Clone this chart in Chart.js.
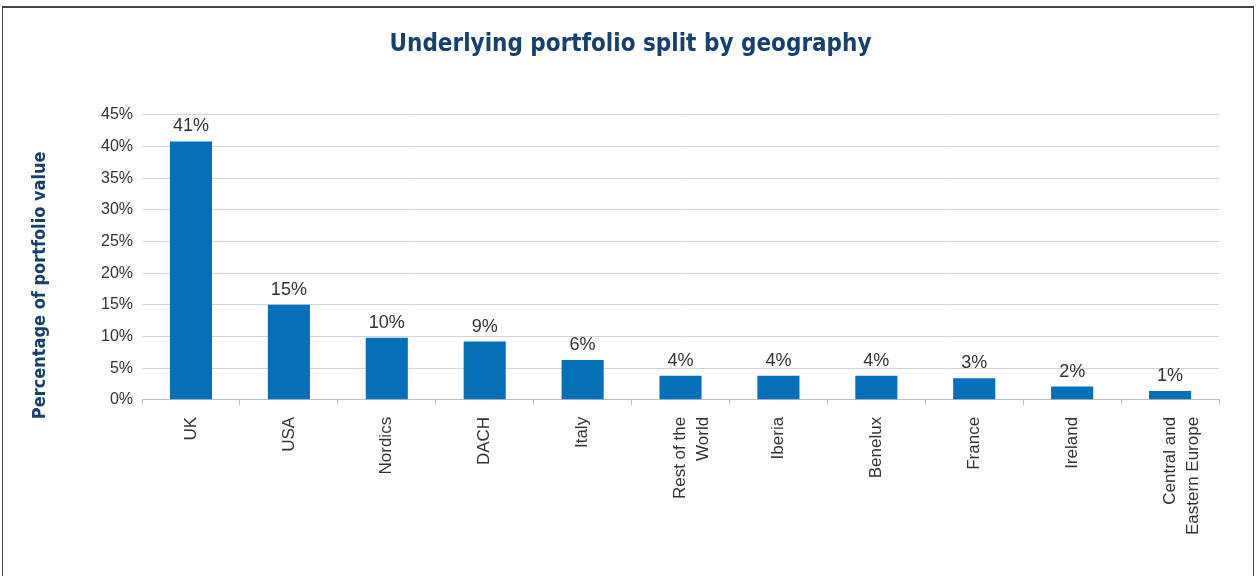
<!DOCTYPE html>
<html lang="en">

<head>
  <meta charset="UTF-8">
  <meta name="viewport" content="width=device-width, initial-scale=1.0">
  <title>Underlying portfolio split by geography</title>
  <style>
    html, body {
      margin: 0;
      padding: 0;
      background: #ffffff;
      overflow: hidden;
    }

    .quadro {
      position: absolute;
      left: 2px;
      top: 6px;
      width: 1250px;
      height: 600px;
      border-left: 1px solid #444;
      border-right: 1px solid #444;
      border-top: 2px solid #444;
    }

    .grafico {
      position: absolute;
      left: 0;
      top: 0;
      width: 1256px;
      height: 576px;
    }
  </style>
</head>

<body>
  <div class="quadro"></div>
  <div class="grafico">
    <canvas id="myChart" width="1256" height="576"></canvas>
  </div>

  <script src="https://cdn.jsdelivr.net/npm/chart.js"></script>

  <script>
    // regions and share of portfolio value (%)
    const regioes = ['UK', 'USA', 'Nordics', 'DACH', 'Italy', ['Rest of the', 'World'], 'Iberia', 'Benelux', 'France', 'Ireland', ['Central and', 'Eastern Europe']];
    const percentuais = [40.8, 15.0, 9.8, 9.2, 6.3, 3.8, 3.8, 3.8, 3.4, 2.1, 1.4];
    const ticksY = [0, 5, 10, 15, 20, 25, 30, 35, 40, 45];
    const tituloEixoY = 'Percentage of portfolio value';

    const azulBarra = '#0570b8';
    const azulTitulo = '#17406d';
    const corTexto = '#333333';
    const fonteTitulo = '"DejaVu Sans Condensed", "Liberation Sans Narrow", sans-serif';
    const fonteTexto = '"Liberation Sans", Arial, sans-serif';

    // value labels above each bar
    const rotulosBarras = {
      id: 'rotulosBarras',
      afterDatasetsDraw(chart) {
        const ctx = chart.ctx;
        const meta = chart.getDatasetMeta(0);
        ctx.save();
        ctx.font = '18px ' + fonteTexto;
        ctx.fillStyle = corTexto;
        ctx.textAlign = 'center';
        ctx.textBaseline = 'bottom';
        meta.data.forEach(function (barra, i) {
          const valor = chart.data.datasets[0].data[i];
          ctx.fillText(Math.round(valor) + '%', barra.x, barra.y - 6);
        });
        ctx.restore();
      }
    };

    // y axis title, sits a bit lower than the middle of the plot
    const tituloY = {
      id: 'tituloY',
      afterDraw(chart) {
        const ctx = chart.ctx;
        const area = chart.chartArea;
        ctx.save();
        ctx.translate(40, (area.top + area.bottom) / 2 + 28);
        ctx.rotate(-Math.PI / 2);
        ctx.font = 'bold 18px ' + fonteTitulo;
        ctx.fillStyle = azulTitulo;
        ctx.textAlign = 'center';
        ctx.textBaseline = 'middle';
        ctx.fillText(tituloEixoY, 0, 0);
        ctx.restore();
      }
    };

    const ctx = document.getElementById('myChart');
    new Chart(ctx, {
      type: 'bar',
      data: {
        labels: regioes,
        datasets: [{
          label: tituloEixoY,
          data: percentuais,
          backgroundColor: azulBarra,
          borderWidth: 0,
          categoryPercentage: 1,
          barPercentage: 0.43
        }]
      },
      options: {
        responsive: false,
        animation: false,
        layout: {
          padding: { left: 42, right: 37, top: 0, bottom: 29 }
        },
        scales: {
          y: {
            min: 0,
            max: 45,
            afterBuildTicks: function (scale) {
              scale.ticks = ticksY.map(function (v) { return { value: v }; });
            },
            // room for the y title drawn by the plugin
            afterFit: function (scale) {
              scale.width += 50;
            },
            border: { display: false },
            grid: {
              color: '#d4d4d4',
              lineWidth: 1,
              drawTicks: false
            },
            ticks: {
              color: corTexto,
              padding: 9,
              font: { family: fonteTexto, size: 16 },
              callback: function (v) { return v + '%'; }
            }
          },
          x: {
            border: { color: '#bfbfbf' },
            grid: {
              offset: true,
              drawOnChartArea: false,
              color: '#bfbfbf',
              tickLength: 5
            },
            ticks: {
              color: corTexto,
              autoSkip: false,
              maxRotation: 90,
              minRotation: 90,
              padding: 12,
              font: { family: fonteTexto, size: 17, lineHeight: 1.35 }
            }
          }
        },
        plugins: {
          legend: { display: false },
          tooltip: { enabled: false },
          title: {
            display: true,
            text: 'Underlying portfolio split by geography',
            color: azulTitulo,
            padding: { top: 30, bottom: 56 },
            font: { family: fonteTitulo, size: 24, weight: 'bold' }
          }
        }
      },
      plugins: [rotulosBarras, tituloY]
    });
  </script>
</body>

</html>
